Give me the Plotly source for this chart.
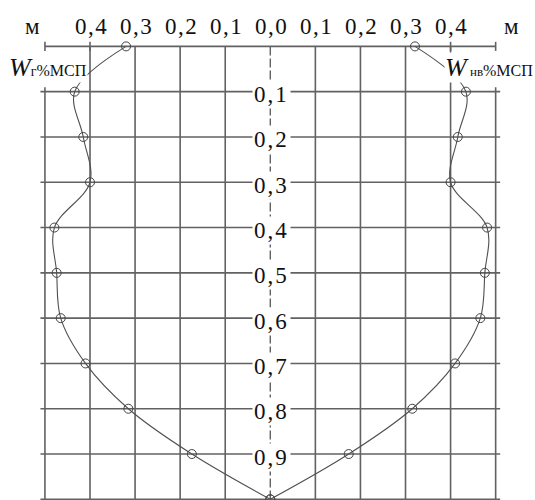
import plotly.graph_objects as go

# ---- data ----
depth = [0.0, 0.1, 0.2, 0.3, 0.4, 0.5, 0.6, 0.7, 0.8, 0.9, 1.0]
w_g = [0.320, 0.434, 0.415, 0.400, 0.479, 0.474, 0.465, 0.410, 0.315, 0.174, 0.0]
w_nv = [0.321, 0.434, 0.416, 0.400, 0.481, 0.476, 0.466, 0.410, 0.315, 0.174, 0.0]

x_tick_vals = [-0.4, -0.3, -0.2, -0.1, 0.0, 0.1, 0.2, 0.3, 0.4]
x_tick_text = ["0,4", "0,3", "0,2", "0,1", "0,0", "0,1", "0,2", "0,3", "0,4"]
y_tick_vals = [0.1, 0.2, 0.3, 0.4, 0.5, 0.6, 0.7, 0.8, 0.9]
y_tick_text = ["0,1", "0,2", "0,3", "0,4", "0,5", "0,6", "0,7", "0,8", "0,9"]
grid_x = [-0.5, -0.4, -0.3, -0.2, -0.1, 0.0, 0.1, 0.2, 0.3, 0.4, 0.5]
grid_y = [0.1, 0.2, 0.3, 0.4, 0.5, 0.6, 0.7, 0.8, 0.9, 1.0]
unit_label = "м"
label_left = "<i>W</i><span style='font-size:14px'>г</span><span style='font-size:16px'>%МСП</span>"
label_right = "<i>W</i><span style='font-size:13px'> нв</span><span style='font-size:16px'>%МСП</span>"

FONT = "Liberation Serif, Times New Roman, serif"
GRID = "#626262"
LINE = "#505050"

def spaced(t, px):
    return "<span style='letter-spacing:%spx'>%s</span>" % (px, t)

fig = go.Figure()
common = dict(
    mode="lines+markers",
    line=dict(color=LINE, width=1.1, shape="spline", smoothing=1.0),
    marker=dict(symbol="circle-open", size=9, color="#444444", line=dict(width=1)),
    showlegend=False,
    hoverinfo="skip",
)
fig.add_trace(go.Scatter(x=[-v for v in w_g], y=depth, **common))
fig.add_trace(go.Scatter(x=w_nv, y=depth, **common))

shapes = []
# top axis line
shapes.append(dict(type="line", xref="x", yref="y", x0=grid_x[0], x1=grid_x[-1], y0=0, y1=0,
                   line=dict(color=GRID, width=1.6), layer="below"))
for v in grid_x:
    if abs(v) < 1e-9:
        shapes.append(dict(type="line", xref="x", yref="y", x0=v, x1=v, y0=0, y1=grid_y[-1],
                           line=dict(color=GRID, width=1.4, dash="9px,3px"), layer="below"))
        continue
    if abs(v) > 0.35:
        # small ticks on the axis line
        shapes.append(dict(type="line", xref="x", yref="y", x0=v, x1=v, y0=-0.01, y1=0.01,
                           line=dict(color=GRID, width=1.6), layer="below"))
        y_start = 0.0 if abs(v) < 0.45 else 0.09
    else:
        y_start = 0.0
    shapes.append(dict(type="line", xref="x", yref="y", x0=v, x1=v, y0=y_start, y1=grid_y[-1],
                       line=dict(color=GRID, width=1.6), layer="below"))
for h in grid_y:
    shapes.append(dict(type="line", xref="x", yref="y", x0=grid_x[0] - 0.01, x1=grid_x[-1] + 0.01,
                       y0=h, y1=h, line=dict(color=GRID, width=1.6), layer="below"))

annotations = []
for v, t in zip(x_tick_vals, x_tick_text):
    annotations.append(dict(x=v, y=-0.045, xref="x", yref="y", text=spaced(t, 1.5), showarrow=False,
                            xshift=1, font=dict(family=FONT, size=23, color="#111111")))
annotations.append(dict(x=grid_x[0], y=-0.045, xref="x", yref="y", text=unit_label, showarrow=False,
                        xshift=-12, font=dict(family=FONT, size=23, color="#111111")))
annotations.append(dict(x=grid_x[-1], y=-0.045, xref="x", yref="y", text=unit_label, showarrow=False,
                        xshift=16, font=dict(family=FONT, size=23, color="#111111")))
for v, t in zip(y_tick_vals, y_tick_text):
    annotations.append(dict(x=0, y=v, xref="x", yref="y", text=spaced(t, 2), showarrow=False,
                            yshift=-3, xshift=1, bgcolor="white", borderpad=1,
                            font=dict(family=FONT, size=23, color="#111111")))
annotations.append(dict(x=-0.493, y=0.047, xref="x", yref="y", text=label_left, showarrow=False,
                        bgcolor="white", borderpad=0,
                        font=dict(family=FONT, size=26, color="#111111")))
annotations.append(dict(x=0.485, y=0.047, xref="x", yref="y", text=label_right, showarrow=False,
                        bgcolor="white", borderpad=0,
                        font=dict(family=FONT, size=26, color="#111111")))

fig.update_layout(
    width=535, height=500,
    margin=dict(l=0, r=0, t=0, b=0),
    paper_bgcolor="white", plot_bgcolor="white",
    xaxis=dict(range=[-0.5997, 0.5873], visible=False, fixedrange=True),
    yaxis=dict(range=[1.0015, -0.1024], visible=False, fixedrange=True),
    shapes=shapes,
    annotations=annotations,
)

fig.write_html("out.html", config={"displayModeBar": False},
               post_script="document.body.style.margin='0px';")
